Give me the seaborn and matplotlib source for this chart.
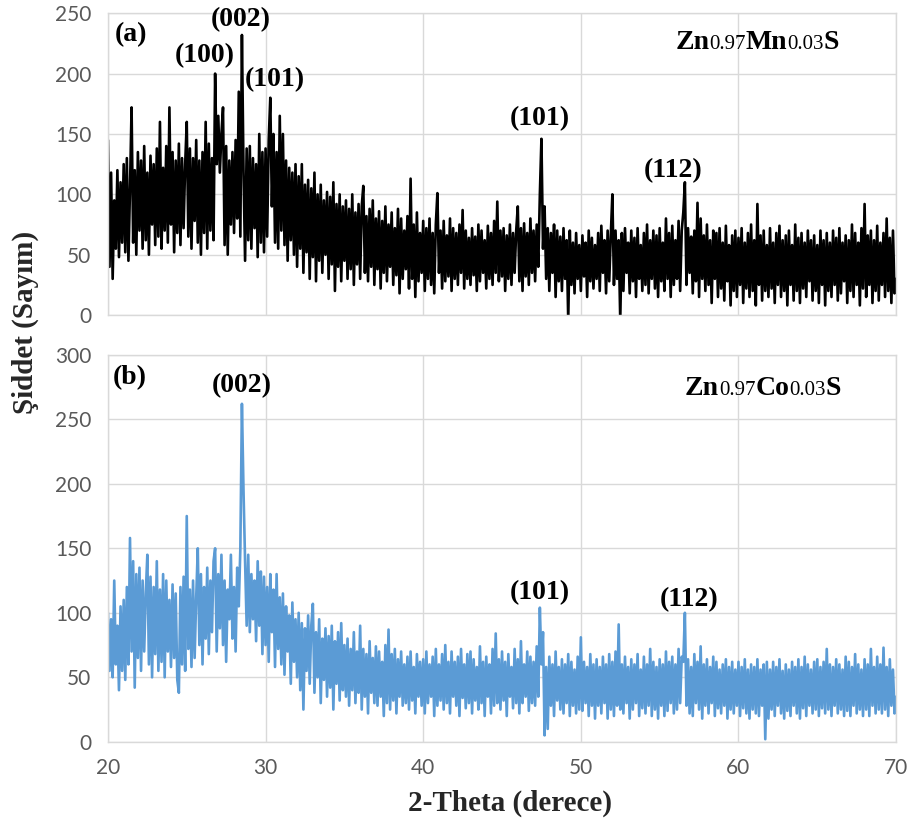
import numpy as np
import pandas as pd
import matplotlib
matplotlib.use("Agg")
import matplotlib.pyplot as plt
import seaborn as sns
from matplotlib.offsetbox import TextArea, HPacker, AnnotationBbox

# 2-theta from 20 to 70 deg, 0.1 deg step
two_theta = np.round(np.arange(200, 701) / 10.0, 1)

# (a) Zn0.97Mn0.03S - counts, one row per degree
mn_counts = [
    145, 40, 118, 30, 95, 55, 120, 48, 110, 60,
    125, 52, 130, 45, 105, 172, 60, 120, 50, 135,
    70, 128, 55, 140, 62, 118, 50, 132, 75, 125,
    58, 138, 65, 160, 55, 122, 70, 140, 60, 172,
    75, 135, 52, 128, 68, 142, 58, 130, 72, 125,
    160, 65, 138, 55, 130, 78, 145, 60, 128, 50,
    135, 68, 160, 55, 142, 70, 130, 62, 200, 125,
    165, 118, 150, 172, 58, 140, 50, 128, 75, 135,
    68, 145, 80, 185, 65, 232, 120, 45, 138, 62,
    140, 55, 130, 72, 125, 48, 150, 60, 135, 52,
    138, 65, 145, 180, 90, 150, 60, 135, 55, 165,
    70, 150, 58, 128, 45, 122, 62, 118, 50, 125,
    40, 115, 55, 125, 35, 108, 52, 112, 30, 105,
    48, 118, 28, 100, 45, 108, 35, 95, 50, 102,
    30, 98, 42, 110, 20, 92, 40, 100, 28, 90,
    45, 95, 30, 88, 38, 100, 25, 85, 42, 92,
    30, 90, 107, 35, 82, 28, 88, 40, 95, 25,
    80, 38, 86, 22, 78, 35, 90, 28, 75, 40,
    85, 25, 72, 33, 88, 18, 80, 30, 70, 38,
    82, 22, 113, 30, 75, 15, 85, 28, 68, 35,
    78, 20, 72, 30, 80, 25, 68, 18, 75, 101,
    35, 70, 22, 78, 28, 66, 32, 80, 20, 72,
    30, 68, 25, 75, 35, 87, 22, 70, 30, 64,
    25, 72, 33, 65, 20, 75, 28, 70, 35, 62,
    22, 74, 30, 68, 25, 78, 35, 94, 28, 70,
    32, 72, 20, 66, 30, 75, 25, 68, 35, 70,
    90, 28, 72, 20, 76, 32, 68, 25, 80, 35,
    70, 28, 75, 40, 100, 146, 55, 90, 30, 72,
    20, 68, 35, 75, 15, 70, 28, 65, 20, 72,
    30, 62, -4, 70, 25, 60, 18, 68, 30, 58,
    20, 66, 32, 60, 15, 70, 28, 64, 22, 58,
    30, 68, 20, 74, 35, 62, 18, 70, 28, 66,
    100, 25, 70, 30, 62, -4, 68, 20, 72, 35,
    60, 18, 70, 28, 64, 15, 72, 30, 58, 20,
    68, 25, 75, 18, 62, 30, 70, 22, 66, 15,
    72, 28, 60, 20, 80, 30, 68, 15, 74, 25,
    62, 30, 78, 20, 70, 85, 110, 25, 72, 35,
    65, 18, 70, 28, 93, 15, 80, 30, 66, 20,
    75, 25, 62, 10, 70, 30, 68, 15, 72, 22,
    60, 12, 74, 28, 58, 8, 66, 20, 70, 15,
    64, 25, 72, 10, 60, 22, 68, 15, 75, 20,
    62, 8, 92, 25, 66, 12, 70, 20, 58, 15,
    72, 22, 60, 10, 68, 25, 74, 15, 62, 20,
    66, 8, 70, 25, 58, 12, 75, 20, 64, 10,
    68, 22, 60, 15, 70, 28, 62, 12, 66, 20,
    58, 10, 70, 25, 62, 8, 68, 20, 60, 15,
    70, 25, 64, 12, 72, 18, 60, 28, 66, 10,
    62, 20, 75, 15, 68, 25, 60, 8, 72, 22,
    92, 15, 66, 25, 70, 10, 62, 20, 74, 12,
    60, 25, 68, 15, 80, 20, 64, 10, 70, 18,
    30,
]

# (b) Zn0.97Co0.03S
co_counts = [
    100, 55, 95, 50, 125, 60, 90, 40, 105, 55,
    110, 48, 120, 60, 158, 70, 140, 42, 130, 65,
    135, 55, 125, 70, 115, 145, 60, 128, 50, 120,
    68, 140, 55, 118, 62, 130, 50, 125, 70, 110,
    58, 122, 65, 115, 48, 38, 120, 60, 128, 55,
    175, 72, 118, 58, 125, 65, 112, 150, 75, 130,
    60, 120, 80, 135, 68, 125, 85, 140, 150, 70,
    130, 88, 145, 75, 125, 62, 118, 95, 145, 80,
    120, 70, 135, 105, 150, 262, 195, 140, 90, 145,
    85, 130, 95, 125, 78, 140, 90, 132, 68, 128,
    75, 120, 62, 130, 85, 118, 58, 130, 72, 112,
    60, 115, 52, 105, 70, 98, 45, 108, 62, 95,
    50, 100, 40, 92, 25, 88, 55, 98, 45, 90,
    107, 38, 85, 50, 95, 30, 80, 48, 88, 35,
    82, 42, 90, 25, 78, 45, 85, 32, 92, 40,
    75, 35, 80, 28, 72, 40, 85, 30, 70, 38,
    90, 25, 72, 35, 68, 22, 78, 38, 65, 30,
    74, 28, 70, 35, 62, 20, 75, 30, 87, 25,
    68, 32, 72, 22, 64, 35, 70, 28, 60, 30,
    66, 25, 70, 32, 58, 22, 68, 35, 62, 28,
    64, 22, 70, 30, 60, 35, 66, 20, 72, 28,
    60, 32, 68, 25, 75, 30, 62, 22, 70, 35,
    62, 28, 66, 20, 72, 34, 60, 26, 68, 30,
    70, 22, 64, 32, 58, 25, 74, 30, 62, 20,
    66, 35, 60, 22, 72, 28, 84, 30, 64, 25,
    70, 32, 62, 20, 68, 35, 58, 26, 72, 30,
    64, 22, 78, 30, 60, 35, 70, 24, 66, 30,
    62, 28, 74, 35, 104, 60, 85, 5, 58, 10,
    66, 28, 60, 20, 70, 32, 58, 25, 64, 22,
    60, 30, 68, 20, 62, 28, 56, 22, 66, 25,
    81, 24, 62, 30, 58, 20, 68, 28, 60, 18,
    64, 28, 58, 22, 66, 30, 60, 18, 68, 25,
    62, 20, 70, 28, 91, 25, 60, 22, 66, 30,
    58, 18, 64, 25, 60, 30, 68, 20, 56, 26,
    66, 22, 60, 28, 72, 20, 62, 25, 58, 18,
    64, 28, 60, 20, 70, 24, 62, 30, 66, 22,
    60, 25, 72, 30, 66, 62, 100, 28, 64, 22,
    58, 20, 68, 30, 62, 25, 74, 18, 60, 28,
    64, 22, 58, 30, 66, 20, 62, 26, 56, 22,
    60, 28, 64, 18, 58, 25, 62, 22, 56, 28,
    62, 20, 58, 26, 64, 22, 56, 18, 60, 25,
    58, 22, 64, 20, 56, 28, 60, 2, 62, 18,
    56, 25, 62, 20, 58, 28, 64, 22, 55, 18,
    60, 24, 56, 20, 62, 28, 58, 22, 64, 18,
    58, 26, 66, 20, 60, 28, 56, 22, 62, 25,
    64, 20, 58, 26, 62, 22, 72, 25, 60, 20,
    58, 28, 64, 22, 60, 25, 56, 20, 66, 24,
    62, 20, 58, 28, 68, 22, 60, 25, 56, 20,
    64, 25, 60, 20, 72, 28, 58, 22, 66, 25,
    60, 22, 73, 25, 58, 20, 64, 28, 56, 22,
    35,
]

# peak labels: (text, x, y)
mn_peaks = [("(100)", 26.15, 215), ("(002)", 28.4, 245), ("(101)", 30.6, 195),
            ("(101)", 47.4, 163), ("(112)", 55.85, 120)]
co_peaks = [("(002)", 28.5, 276), ("(101)", 47.4, 116), ("(112)", 56.9, 110)]

mn_formula = [("Zn", True), ("0.97", False), ("Mn", True), ("0.03", False), ("S", True)]
co_formula = [("Zn", True), ("0.97", False), ("Co", True), ("0.03", False), ("S", True)]

sns.set_style("white")
plt.rcParams["font.family"] = ["Lato", "DejaVu Sans"]

serif = "Liberation Serif"
grid_c = "#d9d9d9"
tick_c = "#595959"

df_mn = pd.DataFrame({"theta": two_theta, "counts": mn_counts})
df_co = pd.DataFrame({"theta": two_theta, "counts": co_counts})

fig = plt.figure(figsize=(9.07, 8.27), dpi=100)
ax1 = fig.add_axes([0.119, 0.619, 0.869, 0.365])
ax2 = fig.add_axes([0.119, 0.103, 0.869, 0.468])

sns.lineplot(data=df_mn, x="theta", y="counts", ax=ax1, color="black", linewidth=1.9)
sns.lineplot(data=df_co, x="theta", y="counts", ax=ax2, color="#5B9BD5", linewidth=1.9)


def formula_box(ax, parts, x, y):
    kids = []
    for txt, big in parts:
        if big:
            props = dict(fontfamily=serif, fontweight="bold", fontsize=20, color="black")
        else:
            props = dict(fontfamily=serif, fontsize=15, color="black")
        kids.append(TextArea(txt, textprops=props))
    box = HPacker(children=kids, align="baseline", pad=0, sep=0)
    ab = AnnotationBbox(box, (x, y), xycoords="data", frameon=False,
                        box_alignment=(0.5, 0.5), pad=0)
    ax.add_artist(ab)


for ax, ymax in [(ax1, 250), (ax2, 300)]:
    ax.set_xlim(20, 70)
    ax.set_ylim(0, ymax)
    ax.set_yticks(np.arange(0, ymax + 1, 50))
    ax.set_xticks(np.arange(20, 71, 10))
    ax.grid(True, color=grid_c, linewidth=1)
    ax.set_axisbelow(True)
    for s in ax.spines.values():
        s.set_color(grid_c)
        s.set_linewidth(1)
    ax.tick_params(length=0, labelsize=15, colors=tick_c, pad=12)
    ax.set_xlabel("")
    ax.set_ylabel("")

ax1.tick_params(axis="x", labelbottom=False)

bold = dict(fontfamily=serif, fontweight="bold", fontsize=20, color="black")
ax1.text(20.45, 232, "(a)", ha="left", va="center", **bold)
ax2.text(20.3, 282, "(b)", ha="left", va="center", **bold)
for txt, x, y in mn_peaks:
    ax1.text(x, y, txt, ha="center", va="center", **bold)
for txt, x, y in co_peaks:
    ax2.text(x, y, txt, ha="center", va="center", **bold)

formula_box(ax1, mn_formula, 61.2, 226)
formula_box(ax2, co_formula, 61.55, 274)

fig.text(0.028, 0.61, "Şiddet (Sayım)", rotation=90, ha="center", va="center",
         fontfamily=serif, fontweight="bold", fontsize=21)
fig.text(0.562, 0.029, "2-Theta (derece)", ha="center", va="center",
         fontfamily=serif, fontweight="bold", fontsize=21)

fig.savefig("out.png", dpi=100)
